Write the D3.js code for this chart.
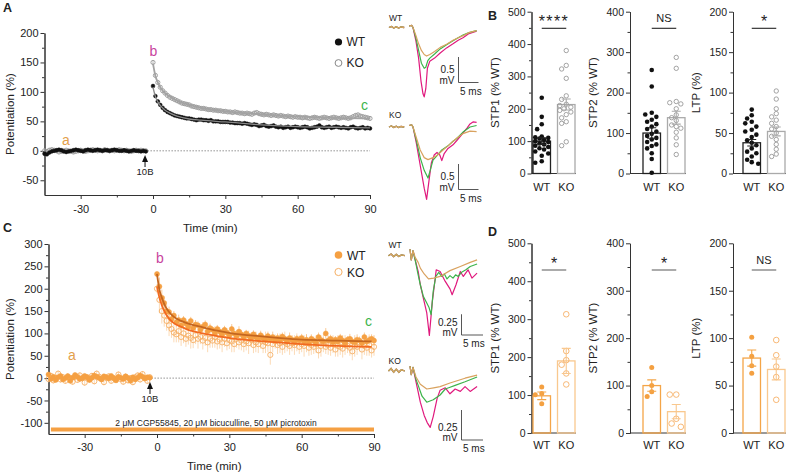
<!DOCTYPE html>
<html>
<head>
<meta charset="utf-8">
<script src="https://cdn.jsdelivr.net/npm/d3@7"></script>
<style>
  body { margin: 0; background: #fff; }
  text { font-family: "Liberation Sans", Arial, sans-serif; fill: #222; }
</style>
</head>
<body>
<svg id="fig" width="789" height="474"></svg>
<script>
// ---------- time course data (Potentiation %, one point per minute) ----------
const baseTimes = d3.range(-45, -2);   // -45 ... -3 min
const postTimes = d3.range(0, 91);     // 0 ... 90 min

// panel A
const aWtBase = [-5,-6,-3,-1,0,1,2,1,-1,-2, -1,0,1,2,1,0,-1,1,2,1, 0,1,2,1,0,1,1,0,1,2, 1,0,0,1,0,-1,0,1,0,0, -1,0,-1];
const aKoBase = [0,-1,1,2,1,0,-2,-1,0,1, 0,-1,-2,-1,0,1,0,-1,0,1, 2,1,0,1,0,2,1,0,1,0, 1,2,1,0,1,0,-1,0,1,0, 1,0,0];
const aWtPost = [110,93,84,78,73,69,66,64,62,60, 59,58,57,56,55,55,54,53,52,53,
  53,52,52,51,52,50,50,50,49,49, 49,49,48,48,47,47,47,46,47,46,
  45,44,45,44,42,43,44,42,41,42, 43,41,40,41,39,40,41,39,40,41,
  40,39,40,41,40,38,39,40,41,43, 40,39,40,41,39,40,41,40,39,40,
  39,38,40,41,39,38,39,40,38,39, 38];
const aKoPost = [150,128,116,108,102,98,94,91,89,87, 85,83,81,80,79,78,76,75,74,73,
  72,72,71,70,70,69,69,68,68,67, 67,66,66,65,66,65,64,64,63,64,
  63,62,64,65,63,62,61,62,61,60, 61,60,59,60,59,58,59,58,57,58,
  57,57,56,57,56,55,56,57,56,55, 56,57,56,55,56,57,56,55,56,57,
  56,55,56,58,60,61,59,58,57,56, 55];
const aWtErr = 2.5, aKoErr = 3.5;
const aFitT  = [0,1,2,3,5,7,10,15,20,30,45,60,75,90];
const aWtFit = [108,92,83,77,69,64,59,54,52,49,44,41,40,39];
const aKoFit = [148,127,116,108,98,92,85,78,73,67,62,58,56,55];

// panel C
const cWtBase = [8,-2,3,-4,2,5,-3,0,4,-6, 1,7,3,-2,0,5,2,-4,1,6, 3,0,-3,4,2,-1,5,0,-5,3, 1,-2,4,0,-6,2,-3,1,6,3, -1,2,1];
const cKoBase = [-2,5,-5,0,10,-3,2,-6,4,0, -8,3,-4,6,0,-10,2,-3,5,-7, 10,3,-2,-9,1,4,-6,0,-4,8, -2,-8,3,-5,0,-9,2,6,-3,9, 0,-6,2];
const cWtPost = [233,205,180,168,150,148,132,140,125,130, 118,130,122,115,128,112,120,118,108,115,
  120,105,112,108,100,110,104,98,108,102, 96,110,100,95,104,98,92,100,95,90,
  98,92,88,96,90,85,94,88,92,84, 90,86,93,88,82,90,86,80,88,84,
  90,82,86,78,88,84,80,92,85,82, 100,84,88,80,86,82,90,84,78,86,
  88,82,80,86,84,78,92,82,85,88, 84];
const cKoPost = [200,175,150,140,128,118,110,102,98,105, 92,100,88,95,90,85,96,88,92,84,
  90,80,88,84,92,82,86,80,88,78, 85,82,76,88,80,84,76,82,78,86,
  74,80,76,84,72,80,78,52,76,82, 74,78,70,80,76,72,78,74,80,70,
  76,72,78,68,74,70,76,62,72,78, 70,74,68,76,64,72,70,66,74,72,
  68,60,72,70,76,64,72,68,74,62, 70];
const cWtErr = [5,20,18,15,14,12,12,10,10,12, 10,9,11,10,9,12,10,9,11,10,
  9,12,10,8,11,9,10,12,9,10, 8,11,10,9,12,10,9,8,11,10,
  9,12,8,10,9,11,10,8,12,9, 10,11,9,8,10,12,9,10,8,11,
  9,10,12,8,10,9,11,10,8,9, 12,10,9,11,8,10,9,12,10,8,
  11,9,10,12,9,8,10,11,9,10, 12];
const cKoErr = [10,30,28,25,22,24,20,22,18,25, 20,22,18,20,24,18,20,22,16,20,
  18,22,20,16,24,18,20,22,18,16, 20,24,18,20,16,22,18,20,24,16,
  18,22,20,18,16,24,20,22,18,16, 20,22,18,24,16,20,18,22,20,16,
  18,24,20,18,22,16,20,18,24,20, 16,22,18,20,16,24,18,20,22,16,
  18,20,24,18,16,22,20,18,24,16, 20];
const cWtBaseErr = 5, cKoBaseErr = 7;
const cFitT  = [0,1,2,3.5,5,7,10,14,18,25,31,40,50,60,75,89];
const cWtFit = [233,198,180,160,148,137,128,120,115,106,100,95,90,86,84,82];
const cKoFit = [205,180,163,145,133,123,115,106,101,94,89,84,80,76,72,70];

// ---------- example EPSP traces: [ms, mV] ----------
const preStim = [[0,0],[0.6,0.02],[1.2,-0.01],[1.8,0.015],[2.4,-0.01],[3,0.01],[3.8,0]];
const aWtOrange  = [[5,0.03],[5.7,0.04],[6,0],[6.7,-0.15],[7.4,-0.32],[8.1,-0.45],[8.8,-0.53],[9.4,-0.56],[10.2,-0.53],[11.4,-0.47],[12.8,-0.39],[14.4,-0.33],[16,-0.25],[17.3,-0.2],[18.5,-0.16],[20,-0.1],[21.9,-0.06]];
const aWtGreen   = [[5,0.03],[5.7,0.04],[6,0],[6.7,-0.2],[7.4,-0.45],[8.1,-0.7],[8.8,-0.8],[9.2,-0.78],[9.7,-0.65],[10.2,-0.6],[11.4,-0.52],[12.8,-0.42],[14.4,-0.34],[16,-0.26],[17.3,-0.2],[18.5,-0.15],[20,-0.1],[21.9,-0.06]];
const aWtMagenta = [[5,0.03],[5.7,0.04],[6,0],[6.7,-0.25],[7.4,-0.6],[8,-1.05],[8.5,-1.3],[8.8,-1.36],[9.2,-1.2],[9.6,-0.8],[10.2,-0.66],[11.4,-0.6],[12.8,-0.5],[14.4,-0.4],[16,-0.32],[17.3,-0.25],[18.5,-0.2],[20,-0.12],[21.9,-0.07]];
const aKoOrange  = [[5,0.03],[5.7,0.04],[6,0],[6.8,-0.2],[7.8,-0.45],[8.8,-0.6],[9.75,-0.64],[11,-0.6],[12,-0.56],[13.5,-0.45],[14.75,-0.37],[16.9,-0.22],[18.5,-0.13],[20.25,-0.08],[21.9,-0.09]];
const aKoGreen   = [[5,0.03],[5.7,0.04],[6,0],[6.8,-0.25],[7.8,-0.6],[8.8,-0.85],[9.75,-1.0],[10.3,-0.85],[11,-0.65],[11.9,-0.57],[13.2,-0.45],[14.75,-0.37],[16,-0.28],[16.9,-0.23],[18.5,-0.1],[20.25,0],[21.9,0.03]];
const aKoMagenta = [[5,0.03],[5.7,0.04],[6,0],[6.8,-0.3],[7.8,-0.75],[8.8,-1.2],[9.4,-1.42],[10,-1.05],[10.6,-0.7],[11.3,-0.55],[12,-0.5],[12.7,-0.55],[13.2,-0.66],[13.8,-0.52],[14.75,-0.42],[16,-0.35],[16.9,-0.27],[18.5,-0.12],[19.5,-0.02],[20.25,0.06],[21,0.1],[21.9,0.09]];
const cWtOrange  = [[5,0.08],[5.3,-0.05],[5.7,0.06],[6.2,-0.02],[6.9,-0.08],[7.4,-0.15],[8.3,-0.22],[9.3,-0.28],[10.5,-0.27],[12,-0.25],[14.3,-0.18],[16.7,-0.13],[19,-0.08],[20.6,-0.05]];
const cWtGreen   = [[5,0.08],[5.3,-0.05],[5.7,0.06],[6.2,-0.05],[6.9,-0.23],[7.4,-0.35],[8.1,-0.49],[8.9,-0.57],[9.4,-0.62],[9.9,-0.71],[10.4,-0.43],[11,-0.25],[11.7,-0.2],[12.3,-0.25],[13,-0.22],[13.6,-0.28],[14.3,-0.24],[15,-0.27],[15.6,-0.23],[16.2,-0.25],[17,-0.2],[18,-0.17],[19,-0.13],[20.6,-0.1]];
const cWtMagenta = [[5,0.08],[5.3,-0.05],[5.7,0.06],[6.2,-0.05],[6.9,-0.19],[7.4,-0.35],[8.1,-0.51],[8.9,-0.69],[9.5,-0.96],[10.2,-0.55],[11.1,-0.17],[12,-0.19],[13.2,-0.31],[14.3,-0.4],[14.8,-0.47],[15.7,-0.35],[16.7,-0.19],[17.4,-0.25],[18.5,-0.17],[19.4,-0.27],[20.6,-0.21]];
const cKoOrange  = [[5,0.04],[5.3,-0.03],[5.7,0.03],[6.4,-0.05],[7.4,-0.11],[8.9,-0.15],[10.5,-0.14],[12,-0.13],[14.3,-0.1],[17.8,-0.06],[20.6,-0.035]];
const cKoGreen   = [[5,0.04],[5.3,-0.03],[5.7,0.03],[6.4,-0.07],[6.9,-0.12],[7.8,-0.21],[8.9,-0.26],[10.4,-0.24],[12,-0.2],[13.2,-0.15],[14,-0.14],[15.5,-0.12],[17.8,-0.09],[20.6,-0.05]];
const cKoMagenta = [[5,0.04],[5.3,-0.03],[5.7,0.03],[6.4,-0.09],[7.4,-0.26],[8.3,-0.37],[9,-0.43],[9.7,-0.47],[10.4,-0.38],[11.3,-0.23],[12,-0.16],[13.2,-0.14],[14.3,-0.19],[15.5,-0.15],[16.7,-0.17],[17.8,-0.13],[19,-0.17],[20.6,-0.13]];

// ---------- summary bars ----------
const groups = ["WT", "KO"];
// B (no blockers)
const bStp1Wt = [234,175,152,137,114,112,110,108,104,100,97,93,90,86,82,78,74,68,62,55,38,33];
const bStp1Ko = [380,334,323,294,240,229,214,210,205,200,195,190,182,172,160,155,98,86];
const bStp2Wt = [256,215,150,146,140,133,128,122,116,110,104,98,93,88,84,78,72,68,62,50,36,2];
const bStp2Ko = [287,260,178,175,172,160,145,138,131,120,116,112,102,88,71,47];
const bLtpWt  = [79,72,68,64,62,58,54,52,48,45,41,38,35,31,27,25,21,17,14,12];
const bLtpKo  = [102,92,80,74,70,66,62,58,55,50,46,42,36,30,24,21];
const bMean = { stp1: [100, 213], stp2: [100, 138], ltp: [38, 52] };
const bSem  = { stp1: [10, 17],   stp2: [13, 16],   ltp: [4, 5.5] };
const bSig  = ["****", "NS", "*"];
// D (with blockers)
const dStp1Wt = [121,104,101,77];
const dStp1Ko = [313,216,192,180,157,128];
const dStp2Wt = [138,100,87,77];
const dStp2Ko = [81,81,30,20,13];
const dLtpWt  = [101,81,71,63];
const dLtpKo  = [98,82,70,59,35];
const dMean = { stp1: [98, 190], stp2: [100, 45], ltp: [79, 67] };
const dSem  = { stp1: [10, 33],  stp2: [12, 15],  ltp: [8.5, 11] };
const dSig  = ["*", "*", "NS"];

// ---------------------------------------------------------------------------
const svg = d3.select("#fig");
const ink = "#333";

function styleAxis(g, fs) {
  g.selectAll("path,line").attr("stroke", ink).attr("stroke-width", 1);
  g.selectAll("text").attr("font-size", fs).attr("fill", "#222")
    .attr("font-family", '"Liberation Sans", Arial, sans-serif');
}

function label(x, y, txt, fs, opt = {}) {
  const t = svg.append("text").attr("x", x).attr("y", y).attr("font-size", fs).text(txt);
  if (opt.anchor) t.attr("text-anchor", opt.anchor);
  if (opt.fill) t.style("fill", opt.fill);
  if (opt.weight) t.attr("font-weight", opt.weight);
  if (opt.rot) t.attr("transform", `rotate(-90,${x},${y})`);
  return t;
}

function timecourse(o) {
  const x = d3.scaleLinear().domain([-45, 90]).range(o.xr);
  const y = d3.scaleLinear().domain(o.yd).range(o.yr);
  const g = svg.append("g");

  const ya = g.append("g").attr("transform", `translate(${o.xr[0]},0)`)
    .call(d3.axisLeft(y).tickValues(o.yTicks).tickFormat(d => d).tickSize(4).tickSizeOuter(0).tickPadding(2));
  styleAxis(ya, 11);
  const ym = g.append("g").attr("transform", `translate(${o.xr[0]},0)`)
    .call(d3.axisLeft(y).tickValues(o.yMinor).tickFormat(() => "").tickSize(2.5).tickSizeOuter(0));
  styleAxis(ym, 11);
  const xa = g.append("g").attr("transform", `translate(0,${o.yr[0]})`)
    .call(d3.axisBottom(x).tickValues([-30, 0, 30, 60, 90]).tickFormat(d => d).tickSize(4).tickSizeOuter(0).tickPadding(o.xPad));
  styleAxis(xa, 11);
  const xm = g.append("g").attr("transform", `translate(0,${o.yr[0]})`)
    .call(d3.axisBottom(x).tickValues([-15, 15, 45, 75]).tickFormat(() => "").tickSize(2.5).tickSizeOuter(0));
  styleAxis(xm, 11);

  // zero reference
  g.append("line").attr("x1", x(-3.5)).attr("x2", x(90)).attr("y1", y(0)).attr("y2", y(0))
    .attr("stroke", "#777").attr("stroke-width", 1).attr("stroke-dasharray", "1.2,1.8");

  const times = baseTimes.concat(postTimes);
  const series = [
    { v: o.koBase.concat(o.koPost), e: o.koErr, s: o.ko },
    { v: o.wtBase.concat(o.wtPost), e: o.wtErr, s: o.wt }
  ];
  series.forEach(sr => {
    const pts = times.map((t, i) => ({ t, v: sr.v[i], e: sr.e[i] }));
    g.append("g").selectAll("line").data(pts).join("line")
      .attr("x1", d => x(d.t)).attr("x2", d => x(d.t))
      .attr("y1", d => y(d.v - d.e)).attr("y2", d => y(d.v + d.e))
      .attr("stroke", sr.s.err).attr("stroke-width", 0.8);
  });
  series.forEach(sr => {
    const pts = times.map((t, i) => ({ t, v: sr.v[i] }));
    g.append("g").selectAll("circle").data(pts).join("circle")
      .attr("cx", d => x(d.t)).attr("cy", d => y(d.v)).attr("r", sr.s.r)
      .attr("fill", sr.s.fill).attr("stroke", sr.s.stroke).attr("stroke-width", sr.s.sw);
  });

  // fitted decays
  const line = d3.line().curve(d3.curveMonotoneX);
  [[o.koFit, o.koFitColor, o.koFitW], [o.wtFit, o.wtFitColor, o.wtFitW]].forEach(([f, c, w]) => {
    g.append("path").attr("d", line(o.fitT.map((t, i) => [x(t), y(f[i])])))
      .attr("fill", "none").attr("stroke", c).attr("stroke-width", w);
  });

  // tetanus arrow
  const ax = x(o.stim);
  g.append("path").attr("d", `M${ax},${o.arrowY}l-3,7h6z`).attr("fill", "#111");
  g.append("line").attr("x1", ax).attr("x2", ax).attr("y1", o.arrowY + 6).attr("y2", o.arrowY + 12)
    .attr("stroke", "#111").attr("stroke-width", 1);
  label(ax, o.arrowY + 20, "10B", 9.5, { anchor: "middle" });

  // axis titles
  label((o.xr[0] + o.xr[1]) / 2 + 3, o.xTitleY, "Time (min)", 11.5, { anchor: "middle" });
  label(14, (o.yr[0] + o.yr[1]) / 2, "Potentiation (%)", 11.5, { anchor: "middle", rot: true });
  return { x, y };
}

function traces(o) {
  const x = d3.scaleLinear().domain([0, 1]).range([o.x0, o.x0 + o.pxMs]);
  const y = d3.scaleLinear().domain([0, 1]).range([o.y0, o.y0 - o.pxMv]);
  const line = d3.line().x(d => x(d[0])).y(d => y(d[1]));
  const g = svg.append("g");
  [["#e0197d", o.magenta], ["#3cb44a", o.green], ["#d9a25f", o.orange]].forEach(([c, pts]) => {
    g.append("path").attr("d", line(preStim)).attr("fill", "none").attr("stroke", c).attr("stroke-width", 1.3);
    g.append("path").attr("d", line(pts)).attr("fill", "none").attr("stroke", c).attr("stroke-width", 1.2)
      .attr("stroke-linejoin", "round");
  });
  // scale bar
  const [sx, sy] = o.sb;
  const h = y(0) - y(o.sbMv), w = x(5) - x(0);
  g.append("path").attr("d", `M${sx},${sy - h}V${sy}H${sx + w}`)
    .attr("fill", "none").attr("stroke", "#444").attr("stroke-width", 0.9);
  label(sx - 4, sy - 9.5, String(o.sbMv), 10, { anchor: "end" });
  label(sx - 4, sy + 1, "mV", 10, { anchor: "end" });
  label(sx + 1.5, sy + 12, "5 ms", 10);
  label(o.x0, o.labelY, o.name, 8.5);
}

function swarm(vals, y, cx, r) {
  const placed = [];
  const offs = [0, -4.6, 4.6, -2.3, 2.3, -6.5, 6.5];
  return vals.map(v => {
    const py = y(v);
    let best = 0, bestD = -1;
    for (const o of offs) {
      const d = placed.length ? d3.min(placed, p => Math.hypot(p[0] - (cx + o), p[1] - py)) : Infinity;
      if (d >= 2 * r + 0.4) { best = o; break; }
      if (d > bestD) { bestD = d; best = o; }
    }
    placed.push([cx + best, py]);
    return [cx + best, py];
  });
}

function bars(o) {
  const y = d3.scaleLinear().domain([0, o.max]).range(o.yr);
  const x = d3.scaleBand().domain(groups).range(o.xr).paddingInner(0.286);
  const g = svg.append("g");
  const ya = g.append("g").attr("transform", `translate(${o.ax},0)`)
    .call(d3.axisLeft(y).tickValues(d3.range(0, o.max + 1, o.step)).tickFormat(d => d)
      .tickSize(4).tickSizeOuter(0).tickPadding(2));
  styleAxis(ya, 10.5);
  const ym = g.append("g").attr("transform", `translate(${o.ax},0)`)
    .call(d3.axisLeft(y).tickValues(d3.range(o.step / 2, o.max, o.step)).tickFormat(() => "")
      .tickSize(2.5).tickSizeOuter(0));
  styleAxis(ym, 10.5);
  g.append("line").attr("x1", o.ax).attr("x2", o.xr[1] + 1).attr("y1", y(0)).attr("y2", y(0))
    .attr("stroke", ink).attr("stroke-width", 1);

  const sets = [
    { k: "WT", vals: o.wt, bar: o.c.barWt, fill: o.c.wt, stroke: "none", r: o.c.rWt },
    { k: "KO", vals: o.ko, bar: o.c.barKo, fill: "none", stroke: o.c.ko, r: o.c.rKo }
  ];
  sets.forEach((s, i) => {
    const bx = x(s.k), bw = x.bandwidth(), cx = bx + bw / 2;
    g.append("rect").attr("x", bx).attr("y", y(o.mean[i])).attr("width", bw)
      .attr("height", y(0) - y(o.mean[i])).attr("fill", "none")
      .attr("stroke", s.bar).attr("stroke-width", 1.3);
    g.append("g").selectAll("circle").data(swarm(s.vals, y, cx, s.r)).join("circle")
      .attr("cx", d => d[0]).attr("cy", d => d[1]).attr("r", s.r)
      .attr("fill", s.fill).attr("stroke", s.stroke).attr("stroke-width", 0.9);
    const lo = y(o.mean[i] - o.sem[i]), hi = y(o.mean[i] + o.sem[i]);
    g.append("path").attr("d", `M${cx - 4.5},${hi}H${cx + 4.5}M${cx},${hi}V${lo}M${cx - 4.5},${lo}H${cx + 4.5}`)
      .attr("fill", "none").attr("stroke", s.bar).attr("stroke-width", 1.1);
    label(cx, o.xLabY, s.k, 11, { anchor: "middle" });
  });

  // significance
  const c1 = x("WT") + x.bandwidth() / 2, c2 = x("KO") + x.bandwidth() / 2;
  g.append("line").attr("x1", c1).attr("x2", c2).attr("y1", o.sigY).attr("y2", o.sigY)
    .attr("stroke", o.c.sig).attr("stroke-width", 1.1);
  if (o.sig === "NS") label((c1 + c2) / 2, o.sigY - 6.5, "NS", 11, { anchor: "middle" });
  else label((c1 + c2) / 2, o.sigY - 1, o.sig, 16, { anchor: "middle" }).attr("letter-spacing", o.sig.length > 1 ? 1.4 : 0);

  label(o.ax - 32.5, (o.yr[0] + o.yr[1]) / 2, o.title, 11.5, { anchor: "middle", rot: true });
}

// ---------------- panel A ----------------
timecourse({
  xr: [44.5, 370], yd: [-75, 200], yr: [195, 33],
  yTicks: [-50, 0, 50, 100, 150, 200], yMinor: [-25, 25, 75, 125, 175], xPad: 6,
  wtBase: aWtBase, koBase: aKoBase, wtPost: aWtPost, koPost: aKoPost,
  wtErr: baseTimes.concat(postTimes).map(() => aWtErr), koErr: baseTimes.concat(postTimes).map(() => aKoErr),
  wt: { r: 1.9, fill: "#111", stroke: "#111", sw: 0.5, err: "#222" },
  ko: { r: 2.1, fill: "none", stroke: "#999", sw: 0.9, err: "#aaa" },
  fitT: aFitT, wtFit: aWtFit, koFit: aKoFit,
  wtFitColor: "#8a8a8a", wtFitW: 1.3, koFitColor: "#a3a3a3", koFitW: 1.8,
  stim: -3.3, arrowY: 155, xTitleY: 232
});

// ---------------- panel C ----------------
timecourse({
  xr: [48.5, 374], yd: [-125, 300], yr: [434, 244],
  yTicks: [-100, -50, 0, 50, 100, 150, 200, 250, 300], yMinor: [-75, -25, 25, 75, 125, 175, 225, 275], xPad: 5,
  wtBase: cWtBase, koBase: cKoBase, wtPost: cWtPost, koPost: cKoPost,
  wtErr: baseTimes.map(() => cWtBaseErr).concat(cWtErr), koErr: baseTimes.map(() => cKoBaseErr).concat(cKoErr),
  wt: { r: 2.5, fill: "#f5a043", stroke: "#f5a043", sw: 0.5, err: "#f7bd7c" },
  ko: { r: 2.6, fill: "none", stroke: "#f6b066", sw: 0.9, err: "#fad1a3" },
  fitT: cFitT, wtFit: cWtFit, koFit: cKoFit,
  wtFitColor: "#c4661f", wtFitW: 1.8, koFitColor: "#f26a21", koFitW: 1.8,
  stim: -2.9, arrowY: 382, xTitleY: 470
});

// drug application bar for C
{
  const x = d3.scaleLinear().domain([-45, 90]).range([48.5, 374]);
  svg.append("rect").attr("x", x(-44)).attr("y", 427.5).attr("width", x(90) - x(-44)).attr("height", 4)
    .attr("fill", "#f5a043");
  label(216, 425.5, "2 μM CGP55845, 20 μM bicuculline, 50 μM picrotoxin", 8.5, { anchor: "middle" });
}

// legends and time-point letters
svg.append("circle").attr("cx", 338.5).attr("cy", 42).attr("r", 3.6).attr("fill", "#111");
label(346.5, 46, "WT", 12);
svg.append("circle").attr("cx", 338.5).attr("cy", 63).attr("r", 3.4).attr("fill", "none").attr("stroke", "#888").attr("stroke-width", 1);
label(346.5, 67, "KO", 12);
svg.append("circle").attr("cx", 338.5).attr("cy", 255).attr("r", 3.8).attr("fill", "#f5a043");
label(347, 259.5, "WT", 12);
svg.append("circle").attr("cx", 338.5).attr("cy", 272).attr("r", 3.6).attr("fill", "none").attr("stroke", "#f6b066").attr("stroke-width", 1);
label(347, 276.5, "KO", 12);

label(66, 145, "a", 14, { anchor: "middle", fill: "#e3a04a" });
label(153.5, 56, "b", 14, { anchor: "middle", fill: "#c8449e" });
label(364.5, 110, "c", 14, { anchor: "middle", fill: "#3cb44a" });
label(72, 359.5, "a", 14, { anchor: "middle", fill: "#e3a04a" });
label(160, 263, "b", 14, { anchor: "middle", fill: "#c8449e" });
label(368.5, 326, "c", 14, { anchor: "middle", fill: "#3cb44a" });

// panel letters
label(3, 12, "A", 12.5, { weight: "bold" });
label(488, 20, "B", 12.5, { weight: "bold" });
label(3, 232, "C", 12.5, { weight: "bold" });
label(488, 236, "D", 12.5, { weight: "bold" });

// ---------------- traces ----------------
traces({ name: "WT", x0: 389, y0: 27.5, pxMs: 4, pxMv: 51, sb: [458.5, 82.5], sbMv: 0.5, labelY: 21,
  orange: aWtOrange, green: aWtGreen, magenta: aWtMagenta });
traces({ name: "KO", x0: 389, y0: 127, pxMs: 4, pxMv: 51, sb: [458.5, 189.5], sbMv: 0.5, labelY: 118,
  orange: aKoOrange, green: aKoGreen, magenta: aKoMagenta });
traces({ name: "WT", x0: 388.5, y0: 255.7, pxMs: 4.3, pxMv: 83, sb: [461.5, 335], sbMv: 0.25, labelY: 248,
  orange: cWtOrange, green: cWtGreen, magenta: cWtMagenta });
traces({ name: "KO", x0: 388.5, y0: 371, pxMs: 4.3, pxMv: 120, sb: [461.5, 440], sbMv: 0.25, labelY: 364,
  orange: cKoOrange, green: cKoGreen, magenta: cKoMagenta });

// ---------------- bar panels ----------------
const greyCols = { wt: "#111", ko: "#999", barWt: "#222", barKo: "#aaa", sig: "#222", rWt: 2.3, rKo: 2.2 };
const orangeCols = { wt: "#f4a041", ko: "#f6b066", barWt: "#f4a548", barKo: "#f9c88e", sig: "#666", rWt: 2.5, rKo: 2.8 };
const panels = [
  { key: "stp1", title: "STP1 (% WT)", max: 500, step: 100, ax: 531.5, xr: [533, 575] },
  { key: "stp2", title: "STP2 (% WT)", max: 400, step: 100, ax: 630, xr: [643, 685] },
  { key: "ltp",  title: "LTP (%)",     max: 200, step: 50,  ax: 733, xr: [743, 785] }
];
const bData = { stp1: [bStp1Wt, bStp1Ko], stp2: [bStp2Wt, bStp2Ko], ltp: [bLtpWt, bLtpKo] };
const dData = { stp1: [dStp1Wt, dStp1Ko], stp2: [dStp2Wt, dStp2Ko], ltp: [dLtpWt, dLtpKo] };

panels.forEach((p, i) => {
  bars({ ...p, yr: [173.5, 11.7], wt: bData[p.key][0], ko: bData[p.key][1],
    mean: bMean[p.key], sem: bSem[p.key], sig: bSig[i], sigY: 28.3, xLabY: 191, c: greyCols });
  bars({ ...p, yr: [433, 243.3], wt: dData[p.key][0], ko: dData[p.key][1],
    mean: dMean[p.key], sem: dSem[p.key], sig: dSig[i], sigY: 270, xLabY: 449, c: orangeCols });
});
</script>
</body>
</html>
